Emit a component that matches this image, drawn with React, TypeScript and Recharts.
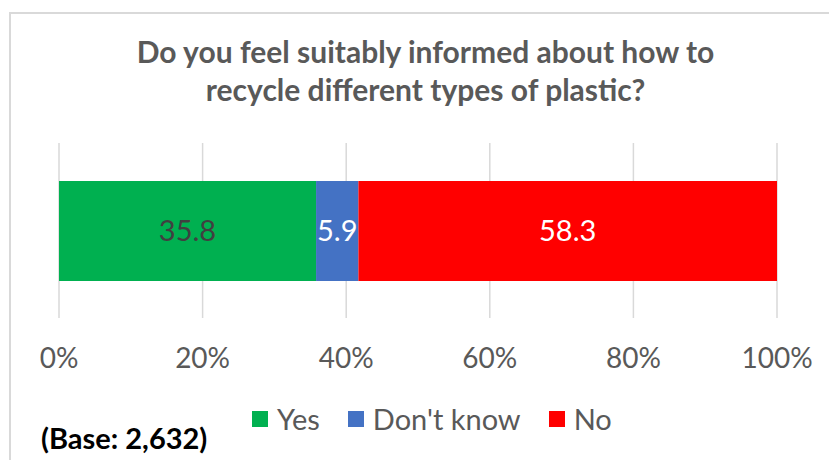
import { Bar, BarChart, CartesianGrid, LabelList, Legend, XAxis, YAxis } from 'recharts';

const categories = ['Informed'];
const seriesNames = ['Yes', "Don't know", 'No'];
const yesValues = [35.8];
const dontKnowValues = [5.9];
const noValues = [58.3];
const xTicks = [0, 20, 40, 60, 80, 100];

const colors = ['#00B050', '#4472C4', '#FF0000'];
const labelColors = ['#404040', '#FFFFFF', '#FFFFFF'];
const keys = ['yes', 'dontKnow', 'no'];
const FONT = 'Lato, "Open Sans", sans-serif';

const data = categories.map((c, i) => ({
    name: c,
    yes: yesValues[i],
    dontKnow: dontKnowValues[i],
    no: noValues[i],
}));

function LegendContent() {
    return (
        <div style={{ display: 'flex', alignItems: 'center', fontFamily: FONT, fontSize: 29, color: '#595959' }}>
            {seriesNames.map((n, i) => (
                <div key={n} style={{ display: 'flex', alignItems: 'center', marginRight: 28 }}>
                    <span style={{ width: 16, height: 16, background: colors[i], display: 'inline-block', marginRight: 9 }} />
                    <span>{n}</span>
                </div>
            ))}
        </div>
    );
}

export default function App() {
    return (
        <div style={{ position: 'absolute', left: 0, top: 0, width: 829, height: 460, background: '#fff', overflow: 'hidden' }}>
            <div
                style={{
                    position: 'absolute',
                    left: 9,
                    top: 12,
                    width: 900,
                    height: 500,
                    border: '2px solid #D9D9D9',
                }}
            />
            <div
                style={{
                    position: 'absolute',
                    left: 0,
                    width: 851,
                    top: 32,
                    textAlign: 'center',
                    fontFamily: FONT,
                    fontWeight: 'bold',
                    fontSize: 30,
                    lineHeight: '38px',
                    color: '#595959',
                }}
            >
                Do you feel suitably informed about how to
                <br />
                recycle different types of plastic?
            </div>
            <div
                style={{
                    position: 'absolute',
                    left: 41,
                    top: 420,
                    fontFamily: FONT,
                    fontWeight: 'bold',
                    fontSize: 29,
                    color: '#000',
                }}
            >
                (Base: 2,632)
            </div>
            <div style={{ position: 'absolute', left: 0, top: 0 }}>
                <BarChart
                    width={829}
                    height={460}
                    data={data}
                    layout="vertical"
                    margin={{ top: 143, right: 52, bottom: 102, left: 59 }}
                >
                    <CartesianGrid horizontal={false} stroke="#D9D9D9" strokeWidth={1.5} />
                    <XAxis
                        type="number"
                        domain={[0, 100]}
                        ticks={xTicks}
                        tickFormatter={(v) => `${v}%`}
                        axisLine={false}
                        tickLine={false}
                        tickSize={0}
                        tickMargin={30}
                        height={40}
                        interval={0}
                        tick={{ fontSize: 28, fill: '#595959', fontFamily: FONT }}
                    />
                    <YAxis type="category" dataKey="name" hide width={0} />
                    <Legend
                        verticalAlign="middle"
                        align="center"
                        content={<LegendContent />}
                        wrapperStyle={{ top: 401, left: 252, width: 'auto' }}
                    />
                    {keys.map((k, i) => (
                        <Bar
                            key={k}
                            dataKey={k}
                            name={seriesNames[i]}
                            stackId="a"
                            fill={colors[i]}
                            barSize={100}
                            isAnimationActive={false}
                        >
                            <LabelList
                                dataKey={k}
                                position="center"
                                fill={labelColors[i]}
                                fontSize={29}
                                fontFamily={FONT}
                                formatter={(v: number) => v.toFixed(1)}
                            />
                        </Bar>
                    ))}
                </BarChart>
            </div>
        </div>
    );
}
